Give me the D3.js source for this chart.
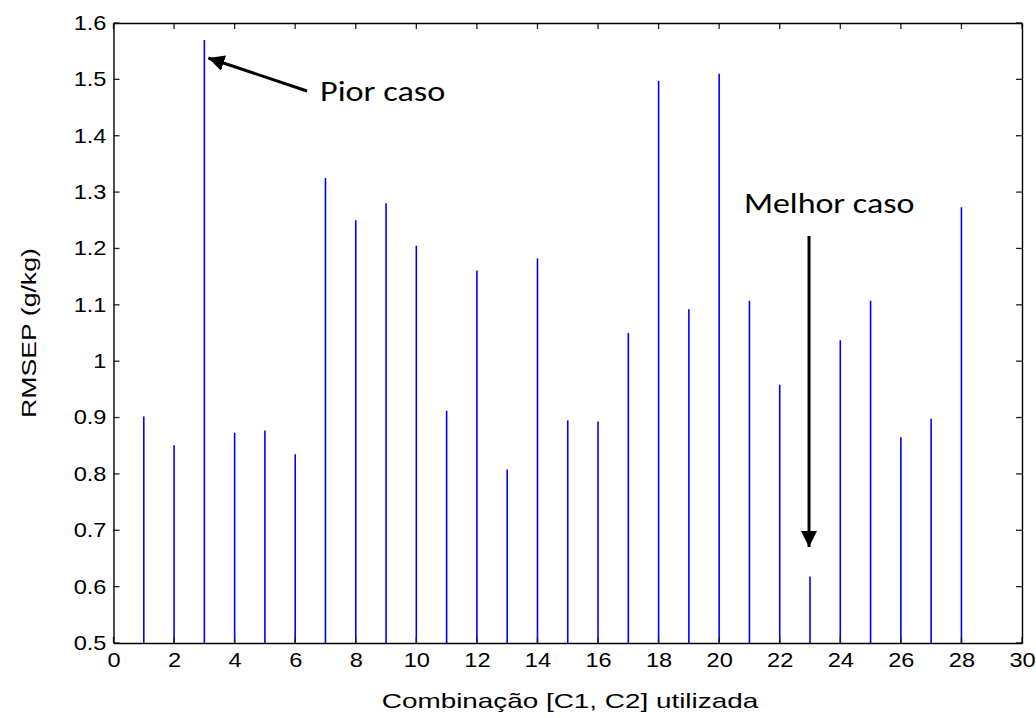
<!DOCTYPE html>
<html>
<head>
<meta charset="utf-8">
<script src="https://cdn.jsdelivr.net/npm/d3@7"></script>
<style>
  html, body { margin: 0; padding: 0; background: #fff; }
  svg { display: block; }
</style>
</head>
<body>
<svg id="chart" width="1036" height="718"></svg>
<script>
// RMSEP for each [C1, C2] combination
const combos = [1,2,3,4,5,6,7,8,9,10,11,12,13,14,15,16,17,18,19,20,21,22,23,24,25,26,27,28];
const rmsep = [0.902,0.851,1.570,0.873,0.877,0.835,1.325,1.250,1.280,1.205,0.912,1.161,0.808,1.182,0.895,0.893,1.050,1.497,1.092,1.510,1.107,0.958,0.618,1.037,1.107,0.865,0.898,1.273];
const xTicks = [0,2,4,6,8,10,12,14,16,18,20,22,24,26,28,30];
const yTicks = [0.5,0.6,0.7,0.8,0.9,1.0,1.1,1.2,1.3,1.4,1.5,1.6];
const xTitle = "Combinação [C1, C2] utilizada";
const yTitle = "RMSEP (g/kg)";

const svg = d3.select("#chart");
const L = 113.5, R = 1022, T = 23, B = 643;

const x = d3.scaleLinear().domain([0, 30]).range([L, R]);
const y = d3.scaleLinear().domain([0.5, 1.6]).range([B, T]);

const fmt = d => (Math.round(d * 10) / 10).toString();
const tickFont = "Liberation Sans, Arial, sans-serif";
const wide = 1.18; // horizontal widening of the label glyphs

// stems
svg.append("g").selectAll("line").data(combos).join("line")
  .attr("x1", d => x(d)).attr("x2", d => x(d))
  .attr("y1", y(0.5)).attr("y2", (d, i) => y(rmsep[i]))
  .attr("stroke", "#0000ff").attr("stroke-width", 1.6);

// inward tick marks on all four sides of the box
const tl = 6;
const ticks = svg.append("g").attr("stroke", "#222").attr("stroke-width", 1.3);
ticks.selectAll("line.xb").data(xTicks).join("line").attr("class", "xb")
  .attr("x1", d => x(d)).attr("x2", d => x(d)).attr("y1", B).attr("y2", B - tl);
ticks.selectAll("line.xt").data(xTicks).join("line").attr("class", "xt")
  .attr("x1", d => x(d)).attr("x2", d => x(d)).attr("y1", T).attr("y2", T + tl);
ticks.selectAll("line.yl").data(yTicks).join("line").attr("class", "yl")
  .attr("x1", L).attr("x2", L + tl).attr("y1", d => y(d)).attr("y2", d => y(d));
ticks.selectAll("line.yr").data(yTicks).join("line").attr("class", "yr")
  .attr("x1", R).attr("x2", R - tl).attr("y1", d => y(d)).attr("y2", d => y(d));

// axes: frame and tick labels
const axBottom = svg.append("g").attr("transform", `translate(0,${B})`)
  .call(d3.axisBottom(x).tickValues(xTicks).tickSize(0).tickPadding(10).tickFormat(d3.format("d")));
const axTop = svg.append("g").attr("transform", `translate(0,${T})`)
  .call(d3.axisTop(x).tickValues(xTicks).tickSize(0).tickFormat(""));
const axLeft = svg.append("g").attr("transform", `translate(${L},0)`)
  .call(d3.axisLeft(y).tickValues(yTicks).tickSize(0).tickPadding(6).tickFormat(fmt));
const axRight = svg.append("g").attr("transform", `translate(${R},0)`)
  .call(d3.axisRight(y).tickValues(yTicks).tickSize(0).tickFormat(""));

[axBottom, axTop, axLeft, axRight].forEach(g => {
  g.select(".domain").attr("stroke", "#000").attr("stroke-width", 1.4);
  g.selectAll("text").attr("font-family", tickFont).attr("font-size", 20).attr("fill", "#000")
    .attr("transform", `scale(${wide},1)`);
});
axBottom.selectAll("text").attr("dy", "0.71em");

// axis titles (glyphs widened horizontally)
svg.append("text").attr("transform", "translate(570,708) scale(1.36,1)")
  .attr("text-anchor", "middle").attr("font-family", tickFont).attr("font-size", 20.5)
  .text(xTitle);
svg.append("text").attr("transform", "translate(36,333) rotate(-90) scale(1.3,1)")
  .attr("text-anchor", "middle").attr("font-family", tickFont).attr("font-size", 20.5)
  .text(yTitle);

// annotations
const defs = svg.append("defs");
defs.append("marker").attr("id", "head").attr("viewBox", "0 0 10 10")
  .attr("refX", 10).attr("refY", 5).attr("markerWidth", 16).attr("markerHeight", 16)
  .attr("markerUnits", "userSpaceOnUse").attr("orient", "auto")
  .append("path").attr("d", "M0,0 L10,5 L0,10 Z").attr("fill", "#000");

const annFont = "Carlito, Calibri, Lato, 'Open Sans', sans-serif";
svg.append("line").attr("x1", 307).attr("y1", 91).attr("x2", x(3) + 4).attr("y2", 58)
  .attr("stroke", "#000").attr("stroke-width", 3).attr("marker-end", "url(#head)");
svg.append("text").attr("transform", "translate(320,101) scale(1.18,1)").attr("font-family", annFont)
  .attr("font-size", 29).attr("fill", "#000").text("Pior caso");

svg.append("line").attr("x1", x(23) - 1).attr("y1", 236).attr("x2", x(23) - 1).attr("y2", 547)
  .attr("stroke", "#000").attr("stroke-width", 3).attr("marker-end", "url(#head)");
svg.append("text").attr("transform", "translate(744,213) scale(1.17,1)").attr("font-family", annFont)
  .attr("font-size", 29).attr("fill", "#000").text("Melhor caso");
</script>
</body>
</html>
